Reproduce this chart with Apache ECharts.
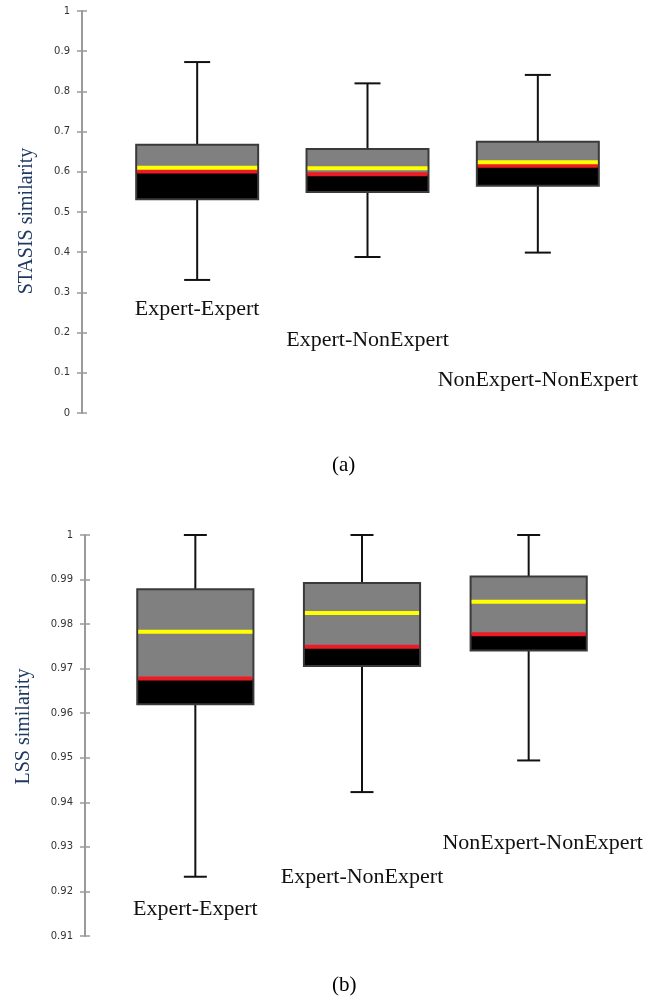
<!DOCTYPE html>
<html>
<head>
<meta charset="utf-8">
<script src="https://cdn.jsdelivr.net/npm/echarts@6/dist/echarts.min.js"></script>
<style>
html,body{margin:0;padding:0;background:#fff;}
#chart{width:668px;height:996px;}
</style>
</head>
<body>
<div id="chart"></div>
<script>
// ---- data ----
const categories = ['Expert-Expert', 'Expert-NonExpert', 'NonExpert-NonExpert'];

// (a) STASIS similarity
const stasisMin    = [0.331, 0.388, 0.399];
const stasisQ1     = [0.532, 0.550, 0.565];
const stasisMedian = [0.601, 0.594, 0.615];
const stasisQ3     = [0.667, 0.657, 0.675];
const stasisMax    = [0.873, 0.820, 0.841];
const stasisMean   = [0.610, 0.609, 0.624];
const stasisTicks  = [0, 1, 0.1]; // min, max, interval

// (b) LSS similarity
const lssMin    = [0.9233, 0.9423, 0.9494];
const lssQ1     = [0.9620, 0.9706, 0.9741];
const lssMedian = [0.9678, 0.9749, 0.9777];
const lssQ3     = [0.9878, 0.9892, 0.9907];
const lssMax    = [1.0, 1.0, 1.0];
const lssMean   = [0.9783, 0.9825, 0.9850];
const lssTicks  = [0.91, 1, 0.01];

function rows(mn, q1, med, q3, mx, mean) {
  return categories.map((c, i) => [i, mn[i], q1[i], med[i], q3[i], mx[i], mean[i]]);
}

function makeRender(boxFrac, capW) {
  return function (params, api) {
    const x = api.value(0);
    const pLo = api.coord([x, api.value(1)]);
    const pQ1 = api.coord([x, api.value(2)]);
    const pMed = api.coord([x, api.value(3)]);
    const pQ3 = api.coord([x, api.value(4)]);
    const pHi = api.coord([x, api.value(5)]);
    const pMean = api.coord([x, api.value(6)]);
    const cx = pLo[0];
    const bw = api.size([1, 0])[0] * boxFrac;
    const L = cx - bw / 2;
    const wStyle = { stroke: '#111', lineWidth: 2 };
    return {
      type: 'group',
      children: [
        { type: 'line', shape: { x1: cx, y1: pHi[1], x2: cx, y2: pLo[1] }, style: wStyle },
        { type: 'line', shape: { x1: cx - capW / 2, y1: pHi[1], x2: cx + capW / 2, y2: pHi[1] }, style: wStyle },
        { type: 'line', shape: { x1: cx - capW / 2, y1: pLo[1], x2: cx + capW / 2, y2: pLo[1] }, style: wStyle },
        { type: 'rect', shape: { x: L, y: pQ3[1], width: bw, height: pMed[1] - pQ3[1] }, style: { fill: '#808080' } },
        { type: 'rect', shape: { x: L, y: pMed[1], width: bw, height: pQ1[1] - pMed[1] }, style: { fill: '#000000' } },
        { type: 'rect', shape: { x: L, y: pQ3[1], width: bw, height: pQ1[1] - pQ3[1] }, style: { fill: null, stroke: '#3a3a3a', lineWidth: 2 } },
        { type: 'rect', shape: { x: L + 1, y: pMed[1] - 2, width: bw - 2, height: 4 }, style: { fill: '#ED1C24' } },
        { type: 'rect', shape: { x: L + 1, y: pMean[1] - 2, width: bw - 2, height: 4 }, style: { fill: '#FFFF00' } }
      ]
    };
  };
}

const serif = '"Liberation Serif", "Times New Roman", serif';
const tickFont = { fontFamily: '"DejaVu Sans", sans-serif', fontSize: 10, color: '#333' };

function yAxesFor(gridIndex, ticks, name, offset, nameGap, namePad) {
  const base = {
    type: 'value', gridIndex: gridIndex, min: ticks[0], max: ticks[1], interval: ticks[2],
    position: 'left', offset: offset, splitLine: { show: false },
    axisLine: { show: true, lineStyle: { color: '#9a9a9a', width: 2 } }
  };
  return [
    Object.assign({}, base, {
      name: name, nameLocation: 'middle', nameRotate: 90, nameGap: nameGap,
      nameTextStyle: { fontFamily: serif, fontSize: 20, color: '#1F3A60', padding: namePad },
      axisTick: { show: true, length: 5, lineStyle: { color: '#9a9a9a', width: 1.5 } },
      axisLabel: Object.assign({ margin: 12 }, tickFont)
    }),
    Object.assign({}, base, {
      axisLine: { show: false },
      axisTick: { show: true, inside: true, length: 5, lineStyle: { color: '#9a9a9a', width: 1.5 } },
      axisLabel: { show: false }
    })
  ];
}

function xAxisFor(gridIndex, margin, pads, lefts) {
  const rich = {};
  pads.forEach((p, i) => {
    rich['s' + i] = { fontFamily: serif, fontSize: 22, color: '#111', padding: [0, 0, p, lefts[i]] };
  });
  return {
    type: 'category', gridIndex: gridIndex, data: categories, boundaryGap: true,
    axisLine: { show: false }, axisTick: { show: false }, splitLine: { show: false },
    axisLabel: {
      inside: true, margin: margin, interval: 0, fontFamily: serif, fontSize: 22, color: '#111',
      formatter: (v, i) => '{s' + i + '|' + v + '}', rich: rich
    }
  };
}

const chart = echarts.init(document.getElementById('chart'), null, { renderer: 'canvas' });
chart.setOption({
  animation: false,
  backgroundColor: '#fff',
  title: [
    { text: '(a)', left: 327, top: 450, textStyle: { fontFamily: serif, fontSize: 21, fontWeight: 'normal', color: '#000' } },
    { text: '(b)', left: 327, top: 970, textStyle: { fontFamily: serif, fontSize: 21, fontWeight: 'normal', color: '#000' } }
  ],
  grid: [
    { left: 112, top: 11, width: 511, height: 402 },
    { left: 112, top: 535, width: 500, height: 401 }
  ],
  xAxis: [
    xAxisFor(0, 22, [71, 40, 0], [0, 0, 0]),
    xAxisFor(1, 16, [0, 32, 66], [0, 0, 28])
  ],
  yAxis: [].concat(
    yAxesFor(0, stasisTicks, 'STASIS similarity', 30, 45, [0, 18, 0, 0]),
    yAxesFor(1, lssTicks, 'LSS similarity', 27, 51, [0, 0, 0, 18])
  ),
  series: [
    {
      type: 'custom', xAxisIndex: 0, yAxisIndex: 0,
      renderItem: makeRender(0.716, 26),
      encode: { x: 0, y: [1, 2, 3, 4, 5, 6] },
      data: rows(stasisMin, stasisQ1, stasisMedian, stasisQ3, stasisMax, stasisMean)
    },
    {
      type: 'custom', xAxisIndex: 1, yAxisIndex: 2,
      renderItem: makeRender(0.697, 23),
      encode: { x: 0, y: [1, 2, 3, 4, 5, 6] },
      data: rows(lssMin, lssQ1, lssMedian, lssQ3, lssMax, lssMean)
    }
  ]
});
</script>
</body>
</html>
